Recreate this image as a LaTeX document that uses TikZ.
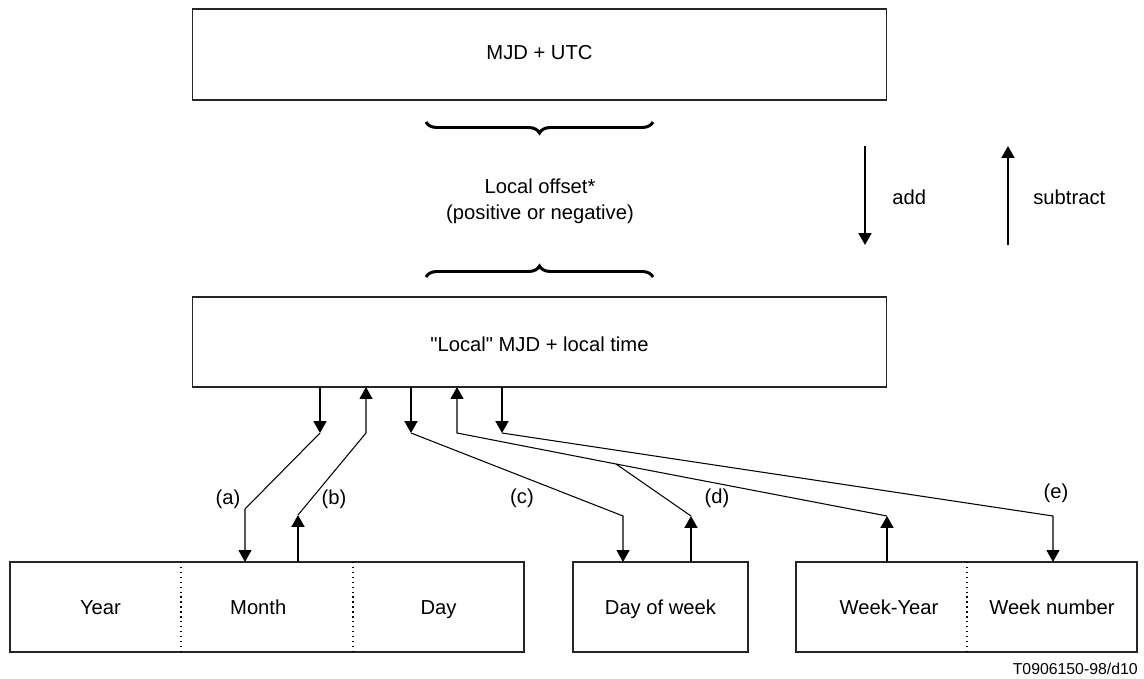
\documentclass[tikz,border=0pt]{standalone}
\usepackage{fontspec}
\setmainfont{Liberation Sans}
\usetikzlibrary{arrows.meta,decorations.pathreplacing}
\newcommand{\tdquote}{\XeTeXglyph\XeTeXcharglyph"22\relax}
\tikzset{
  tdbox/.style={draw=black!85, line width=0.6pt, inner sep=0pt, outer sep=0pt,
    minimum width=13.9cm, minimum height=1.8cm, text height=8.6pt, text depth=2.6pt,
    font=\fontsize{11.5}{14}\selectfont},
  tdcell/.style={inner sep=0pt, outer sep=0pt, minimum height=1.8cm,
    text height=10.6pt, text depth=2.6pt, font=\fontsize{11.5}{14}\selectfont},
  tdlabel/.style={inner sep=0pt, font=\fontsize{11.5}{14}\selectfont},
  tdstub/.style={line width=1.1pt, -{Triangle[length=0.24cm,width=0.26cm]}},
  tdlink/.style={line width=0.6pt},
  tdlinkarr/.style={tdlink, -{Triangle[length=0.24cm,width=0.26cm]}},
  tdbrace/.style={decorate, decoration={brace, amplitude=0.22cm}, line width=1.7pt}
}

\begin{document}
\begin{tikzpicture}[x=0.02cm, y=-0.02cm]
  \useasboundingbox (0,0) rectangle (1144,679);
  % main boxes
  \node[tdbox, minimum height=1.82cm] (utc) at (539.5,54.5) {MJD + UTC};
  \node[tdbox, text height=13.6pt] (local) at (539.5,342) {\tdquote Local\tdquote{} MJD + local time};
  \node[tdlabel, align=center, font=\fontsize{11.5}{14.8}\selectfont] (offset) at (540,201)
    {Local offset*\\(positive or negative)};
  \draw[tdbrace] (653,122) -- (426,122);
  \draw[tdbrace] (426,277) -- (653,277);
  % add / subtract
  \node[tdlabel, anchor=west] (addlbl) at (892,197) {add};
  \node[tdlabel, anchor=west] (sublbl) at (1033,197) {subtract};
  \coordinate (addA) at (865,146);
  \coordinate (addB) at (865,245);
  \coordinate (subA) at (1008,245);
  \coordinate (subB) at (1008,146);
  \draw[tdstub] (addA) -- (addB);
  \draw[tdstub] (subA) -- (subB);
  % bottom boxes
  \node[tdcell, minimum width=3.42cm] (year) at (95.5,607) {\hspace*{0.2cm}Year};
  \node[tdcell, minimum width=3.44cm] (month) at (267,607) {Month\hspace*{0.35cm}};
  \node[tdcell, minimum width=3.42cm] (day) at (438.5,607) {Day};
  \draw[line width=0.6pt, draw=black!85] (year.north west) rectangle (day.south east);
  \draw[dotted, line width=0.8pt] (year.north east) -- (year.south east);
  \draw[dotted, line width=0.8pt] (month.north east) -- (month.south east);
  \node[tdbox, minimum width=3.5cm, text height=10.6pt] (dow) at (660.5,607) {Day of week};
  \node[tdcell, minimum width=3.42cm] (wkyear) at (881.5,607) {\hspace*{0.3cm}Week-Year};
  \node[tdcell, minimum width=3.4cm] (wknum) at (1052,607) {Week number};
  \draw[line width=0.6pt, draw=black!85] (wkyear.north west) rectangle (wknum.south east);
  \draw[dotted, line width=0.8pt] (wkyear.north east) -- (wkyear.south east);
  % bend points
  \coordinate (a2) at (320,433);
  \coordinate (a3) at (245,509);
  \coordinate (b2) at (298,515);
  \coordinate (b3) at (366,433);
  \coordinate (c2) at (411,433);
  \coordinate (c3) at (623,516);
  \coordinate (d1) at (691,516);
  \coordinate (d2) at (887,516);
  \coordinate (dj) at (616,464);
  \coordinate (d3) at (457,433);
  \coordinate (e2) at (502,433);
  \coordinate (e3) at (1053,516);
  % (a)
  \draw[tdstub] (a2 |- local.south) -- (a2);
  \draw[tdlinkarr] (a2) -- (a3) -- (a3 |- month.north);
  % (b)
  \draw[tdstub] (b2 |- month.north) -- (b2);
  \draw[tdlinkarr] (b2) -- (b3) -- (b3 |- local.south);
  % (c)
  \draw[tdstub] (c2 |- local.south) -- (c2);
  \draw[tdlinkarr] (c2) -- (c3) -- (c3 |- dow.north);
  % (d)
  \draw[tdstub] (d1 |- dow.north) -- (d1);
  \draw[tdstub] (d2 |- wkyear.north) -- (d2);
  \draw[tdlink] (d1) -- (dj);
  \draw[tdlinkarr] (d2) -- (dj) -- (d3) -- (d3 |- local.south);
  % (e)
  \draw[tdstub] (e2 |- local.south) -- (e2);
  \draw[tdlinkarr] (e2) -- (e3) -- (e3 |- wknum.north);
  % labels
  \node[tdlabel] (la) at (228,499) {(a)};
  \node[tdlabel] (lb) at (334,499) {(b)};
  \node[tdlabel] (lc) at (522,498) {(c)};
  \node[tdlabel] (ld) at (717,498) {(d)};
  \node[tdlabel] (le) at (1056,493) {(e)};
  \node[inner sep=0pt, anchor=east, font=\fontsize{9}{11}\selectfont] (ref) at (1138,669) {T0906150-98/d10};
\end{tikzpicture}
\end{document}
